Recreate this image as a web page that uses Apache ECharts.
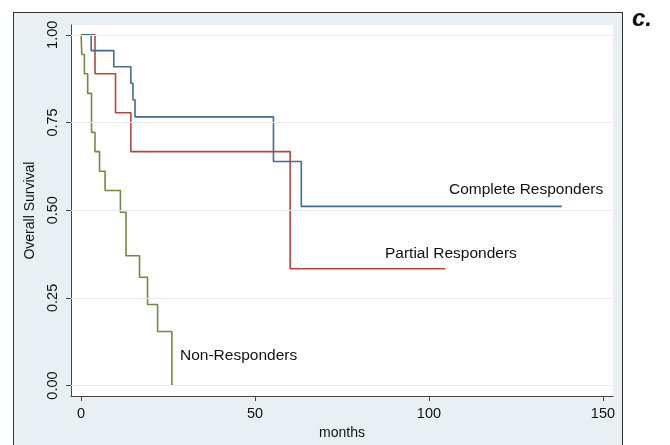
<!DOCTYPE html>
<html>
<head>
<meta charset="utf-8">
<script src="https://cdn.jsdelivr.net/npm/echarts@6/dist/echarts.min.js"></script>
<style>
  html, body { margin: 0; padding: 0; background: #ffffff; }
  #wrap { position: relative; width: 670px; height: 445px; overflow: hidden; }
  #frame { position: absolute; left: 13px; top: 12px; width: 610px; height: 445px;
           background: #e9f0f3; border: 1.5px solid #333; box-sizing: border-box; }
  #chart { position: absolute; left: 0; top: 0; width: 670px; height: 445px; }
</style>
</head>
<body>
<div id="wrap">
  <div id="frame"></div>
  <div id="chart"></div>
</div>
<script>
// ---- data ----
const completeTimes = [0, 2.9, 9.4, 14.3, 14.9, 15.5, 55.3, 63.3, 138.2];
const completeSurv  = [1, 0.955, 0.909, 0.862, 0.815, 0.766, 0.639, 0.511, 0.511];

const partialTimes = [0, 4.0, 9.9, 14.3, 60.1, 104.7];
const partialSurv  = [1, 0.889, 0.778, 0.667, 0.333, 0.333];

const nonTimes = [0, 0.2, 0.95, 1.9, 3.0, 4.0, 5.3, 6.9, 11.3, 12.9, 16.8, 19.1, 22.0, 26.1];
const nonSurv  = [1, 0.944, 0.889, 0.833, 0.722, 0.667, 0.611, 0.556, 0.494, 0.370, 0.309, 0.231, 0.154, 0];

const xTicks = [0, 50, 100, 150];
const yTicks = [0, 0.25, 0.5, 0.75, 1];

const seriesNames = ['Complete Responders', 'Partial Responders', 'Non-Responders'];
// ---------------------------------------

function pairs(t, s) { return t.map((v, i) => [v, s[i]]); }

const FONT = 'Liberation Sans, Arial, Helvetica, sans-serif';
const chart = echarts.init(document.getElementById('chart'), null, { renderer: 'canvas' });

const lineCommon = { type: 'line', step: 'end', showSymbol: false, symbol: 'none', silent: true, animation: false };

chart.setOption({
  animation: false,
  backgroundColor: 'transparent',
  grid: { left: 71, right: 57, top: 25, bottom: 47, show: true, backgroundColor: '#ffffff', borderWidth: 0 },
  xAxis: {
    type: 'value', min: -2.9, max: 152.9,
    name: 'months', nameLocation: 'middle', nameGap: 28,
    nameTextStyle: { fontFamily: FONT, fontSize: 14, color: '#111' },
    axisLine: { show: true, onZero: false, lineStyle: { color: '#444', width: 1 } },
    axisTick: { show: true, length: 5, customValues: xTicks, lineStyle: { color: '#444' } },
    axisLabel: { customValues: xTicks, fontFamily: FONT, fontSize: 14.5, color: '#111', margin: 10 },
    splitLine: { show: false }
  },
  yAxis: {
    type: 'value', min: -0.03, max: 1.028,
    name: 'Overall Survival', nameLocation: 'middle', nameGap: 29,
    nameTextStyle: { fontFamily: FONT, fontSize: 14, color: '#111' },
    axisLine: { show: true, onZero: false, lineStyle: { color: '#444', width: 1 } },
    axisTick: { show: true, length: 5, customValues: yTicks, lineStyle: { color: '#444' } },
    axisLabel: { customValues: yTicks, rotate: 90, fontFamily: FONT, fontSize: 14.5, color: '#111', margin: 11,
                 formatter: v => v.toFixed(2) },
    splitLine: { show: false }
  },
  graphic: [
    { type: 'text', left: 449, top: 182, style: { text: seriesNames[0], font: '15.5px ' + FONT, fill: '#111' } },
    { type: 'text', left: 385, top: 246, style: { text: seriesNames[1], font: '15.5px ' + FONT, fill: '#111' } },
    { type: 'text', left: 180, top: 348, style: { text: seriesNames[2], font: '15.5px ' + FONT, fill: '#111' } },
    { type: 'text', left: 632, top: 7, style: { text: 'c.', font: 'italic bold 24px ' + FONT, fill: '#111' } }
  ],
  series: [
    { type: 'line', data: [], silent: true,
      markLine: { silent: true, symbol: 'none', label: { show: false },
        lineStyle: { color: '#e3edf0', width: 1.2, type: 'solid' },
        data: yTicks.map(v => ({ yAxis: v })) } },
    Object.assign({}, lineCommon, { name: seriesNames[0], data: pairs(completeTimes, completeSurv),
      lineStyle: { color: '#3f6b94', width: 1.6 }, z: 3 }),
    Object.assign({}, lineCommon, { name: seriesNames[1], data: pairs(partialTimes, partialSurv),
      lineStyle: { color: '#b5463f', width: 1.6 }, z: 2 }),
    Object.assign({}, lineCommon, { name: seriesNames[2], data: pairs(nonTimes, nonSurv),
      lineStyle: { color: '#6e8c3d', width: 1.6 }, z: 2 })
  ]
});
</script>
</body>
</html>
